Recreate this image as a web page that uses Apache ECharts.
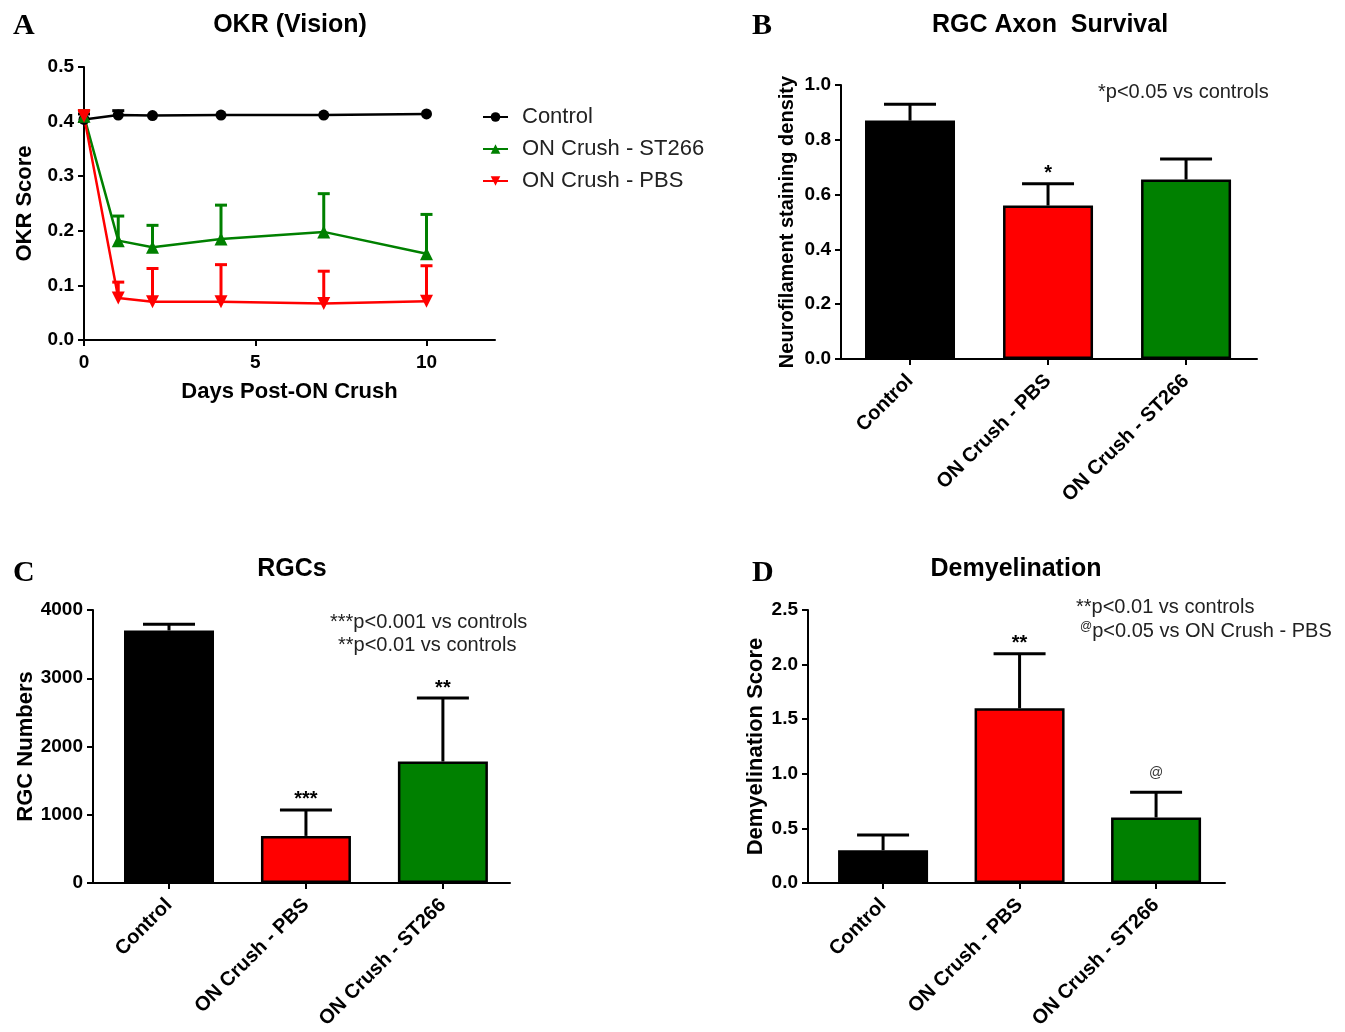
<!DOCTYPE html>
<html><head><meta charset="utf-8">
<script src="https://cdn.jsdelivr.net/npm/echarts@6/dist/echarts.min.js"></script>
<style>html,body{margin:0;padding:0;background:#fff}#c{width:1345px;height:1032px}</style>
</head><body><div id="c"></div>
<script>
// ---- Panel A data (OKR) ----
const days = [0, 1, 2, 4, 7, 10];
const okrControl = [0.404, 0.412, 0.411, 0.412, 0.412, 0.414];
const okrControlSem = [0.01, 0.008, 0, 0, 0, 0];
const okrSt266 = [0.41, 0.182, 0.170, 0.185, 0.198, 0.158];
const okrSt266Sem = [0.01, 0.045, 0.040, 0.062, 0.070, 0.072];
const okrPbs = [0.41, 0.077, 0.070, 0.070, 0.067, 0.071];
const okrPbsSem = [0.01, 0.029, 0.061, 0.068, 0.059, 0.065];
const okrXTicks = [0, 5, 10];
// ---- Bar panels ----
const groups = ['Control', 'ON Crush - PBS', 'ON Crush - ST266'];
const groupPos = [1, 2, 3];
const axonMean = [0.87, 0.56, 0.655];
const axonSem = [0.06, 0.08, 0.075];
const axonSig = ['', '*', ''];
const rgcMean = [3700, 690, 1780];
const rgcSem = [90, 380, 930];
const rgcSig = ['', '***', '**'];
const demyMean = [0.30, 1.60, 0.60];
const demySem = [0.14, 0.50, 0.23];
const demySig = ['', '**', '@'];

const barColors = ['#000000', '#ff0000', '#008000'];
const FONT = '"Liberation Sans", Arial, sans-serif';

function errRender(capW, lw, color, sigs) {
  return function (params, api) {
    const x = api.value(0), m = api.value(1), s = api.value(2);
    const sig = sigs ? (sigs[params.dataIndex] || '') : '';
    const p0 = api.coord([x, m]), p1 = api.coord([x, m + s]);
    const ch = [];
    if (s > 0) {
      ch.push({type: 'line', shape: {x1: p0[0], y1: p0[1], x2: p1[0], y2: p1[1]}, style: {stroke: color, lineWidth: lw}});
      ch.push({type: 'line', shape: {x1: p1[0] - capW / 2, y1: p1[1], x2: p1[0] + capW / 2, y2: p1[1]}, style: {stroke: color, lineWidth: lw}});
    }
    if (sig) {
      const isAt = sig === '@';
      ch.push({type: 'text', style: {text: sig, x: p1[0], y: p1[1] - (isAt ? 19 : 10), align: 'center', verticalAlign: 'middle',
        fontFamily: FONT, fontSize: isAt ? 14 : 20, fontWeight: isAt ? 'normal' : 'bold', fill: isAt ? '#333' : '#000'}});
    }
    return {type: 'group', children: ch};
  };
}

function errData(xs, means, sems) {
  return xs.map((x, i) => [x, means[i], sems[i]]);
}

const axisLineStyle = {lineStyle: {color: '#000', width: 2}};
const tickStyle = {show: true, length: 6, lineStyle: {color: '#000', width: 2}};
const tickLabel = {color: '#000', fontFamily: FONT, fontSize: 19, fontWeight: 'bold'};

function valueY(grid, min, max, interval, dec, name, nameGap, nameSize) {
  return {type: 'value', gridIndex: grid, min: min, max: max, interval: interval,
    axisLine: Object.assign({show: true}, axisLineStyle), axisTick: tickStyle, splitLine: {show: false},
    axisLabel: Object.assign({margin: 10, formatter: v => v.toFixed(dec)}, tickLabel),
    name: name, nameLocation: 'middle', nameGap: nameGap, nameRotate: 90,
    nameTextStyle: {color: '#000', fontFamily: FONT, fontSize: nameSize, fontWeight: 'bold'}};
}
function catX(grid, min, max) {
  return {type: 'value', gridIndex: grid, min: min, max: max,
    axisLine: Object.assign({show: true, onZero: false}, axisLineStyle),
    axisTick: Object.assign({customValues: groupPos}, tickStyle), splitLine: {show: false},
    axisLabel: Object.assign({}, tickLabel, {customValues: groupPos, rotate: 45, margin: 19, fontSize: 20,
      formatter: v => groups[Math.round(v) - 1]})};
}
function barSeries(idx, means) {
  return {type: 'bar', xAxisIndex: idx, yAxisIndex: idx, barWidth: 90,
    data: groupPos.map((x, i) => ({value: [x, means[i]], itemStyle: {color: barColors[i]}})),
    itemStyle: {borderColor: '#000', borderWidth: 2.5}};
}
function barErr(idx, means, sems, sigs) {
  return {type: 'custom', xAxisIndex: idx, yAxisIndex: idx, renderItem: errRender(52, 3, '#000', sigs),
    data: errData(groupPos, means, sems), z: 3};
}

const lineGroups = [
  {name: 'Control', mean: okrControl, sem: okrControlSem, color: '#000000', symbol: 'circle', size: 11, rot: 0},
  {name: 'ON Crush - ST266', mean: okrSt266, sem: okrSt266Sem, color: '#008000', symbol: 'triangle', size: 13, rot: 0},
  {name: 'ON Crush - PBS', mean: okrPbs, sem: okrPbsSem, color: '#ff0000', symbol: 'triangle', size: 13, rot: 180}
];
const lineSeries = [];
lineGroups.forEach(g => {
  lineSeries.push({type: 'custom', name: g.name + ' err', xAxisIndex: 0, yAxisIndex: 0,
    renderItem: errRender(12, 3, g.color, null), data: errData(days, g.mean, g.sem), z: 2});
  lineSeries.push({type: 'line', name: g.name, xAxisIndex: 0, yAxisIndex: 0,
    data: days.map((d, i) => [d, g.mean[i]]), color: g.color,
    symbol: g.symbol, symbolSize: g.size, symbolRotate: g.rot,
    lineStyle: {color: g.color, width: 2.5}, itemStyle: {color: g.color}, z: 3});
});

function t(text, x, y, font, align, extra) {
  return {type: 'text', style: Object.assign({text: text, x: x, y: y, font: font, fill: '#000',
    align: align || 'center', verticalAlign: 'middle'}, extra || {})};
}
const letterFont = 'bold 30px "Liberation Serif", "Times New Roman", serif';
const titleFont = 'bold 25px ' + FONT;
const noteFont = '20px ' + FONT;

const option = {
  animation: false,
  backgroundColor: '#fff',
  grid: [
    {left: 84, top: 67, width: 411, height: 273},
    {left: 841, top: 85, width: 416, height: 274},
    {left: 93, top: 610, width: 417, height: 273},
    {left: 808, top: 610, width: 417, height: 273}
  ],
  legend: {
    data: lineGroups.map(g => g.name), orient: 'vertical', left: 477, top: 101,
    itemWidth: 25, itemHeight: 12, itemGap: 10,
    textStyle: {fontFamily: FONT, fontSize: 22, lineHeight: 22, color: '#222', padding: [0, 0, 0, 9]}
  },
  xAxis: [
    {type: 'value', gridIndex: 0, min: 0, max: 12,
      axisLine: Object.assign({show: true, onZero: false}, axisLineStyle),
      axisTick: Object.assign({customValues: okrXTicks}, tickStyle), splitLine: {show: false},
      axisLabel: Object.assign({customValues: okrXTicks, margin: 13}, tickLabel),
      name: 'Days Post-ON Crush', nameLocation: 'middle', nameGap: 41,
      nameTextStyle: {color: '#000', fontFamily: FONT, fontSize: 22, fontWeight: 'bold'}},
    catX(1, 0.5, 3.514),
    catX(2, 0.445, 3.49),
    catX(3, 0.45, 3.505)
  ],
  yAxis: [
    valueY(0, 0, 0.5, 0.1, 1, 'OKR Score', 48, 22),
    valueY(1, 0, 1.0, 0.2, 1, 'Neurofilament staining density', 44, 20),
    valueY(2, 0, 4000, 1000, 0, 'RGC Numbers', 56, 22),
    valueY(3, 0, 2.5, 0.5, 1, 'Demyelination Score', 41, 22)
  ],
  series: lineSeries.concat([
    barSeries(1, axonMean), barErr(1, axonMean, axonSem, axonSig),
    barSeries(2, rgcMean), barErr(2, rgcMean, rgcSem, rgcSig),
    barSeries(3, demyMean), barErr(3, demyMean, demySem, demySig)
  ]),
  graphic: [
    t('A', 13, 26, letterFont, 'left'),
    t('B', 752, 26, letterFont, 'left'),
    t('C', 13, 573, letterFont, 'left'),
    t('D', 752, 573, letterFont, 'left'),
    t('OKR (Vision)', 290, 25, titleFont),
    t('RGC Axon  Survival', 1050, 25, titleFont),
    t('RGCs', 292, 569, titleFont),
    t('Demyelination', 1016, 569, titleFont),
    t('*p<0.05 vs controls', 1098, 92, noteFont, 'left', {fill: '#222'}),
    t('***p<0.001 vs controls', 330, 622, noteFont, 'left', {fill: '#222'}),
    t('**p<0.01 vs controls', 338, 645, noteFont, 'left', {fill: '#222'}),
    t('**p<0.01 vs controls', 1076, 607, noteFont, 'left', {fill: '#222'}),
    {type: 'text', style: {text: '{a|@}p<0.05 vs ON Crush - PBS', x: 1080, y: 631, align: 'left', verticalAlign: 'middle',
      font: noteFont, fill: '#222', rich: {a: {fontSize: 12, fontFamily: FONT, fill: '#222', verticalAlign: 'top', padding: [0, 0, 6, 0]}}}}
  ]
};
const chart = echarts.init(document.getElementById('c'), null, {renderer: 'canvas'});
chart.setOption(option);
</script>
</body></html>
